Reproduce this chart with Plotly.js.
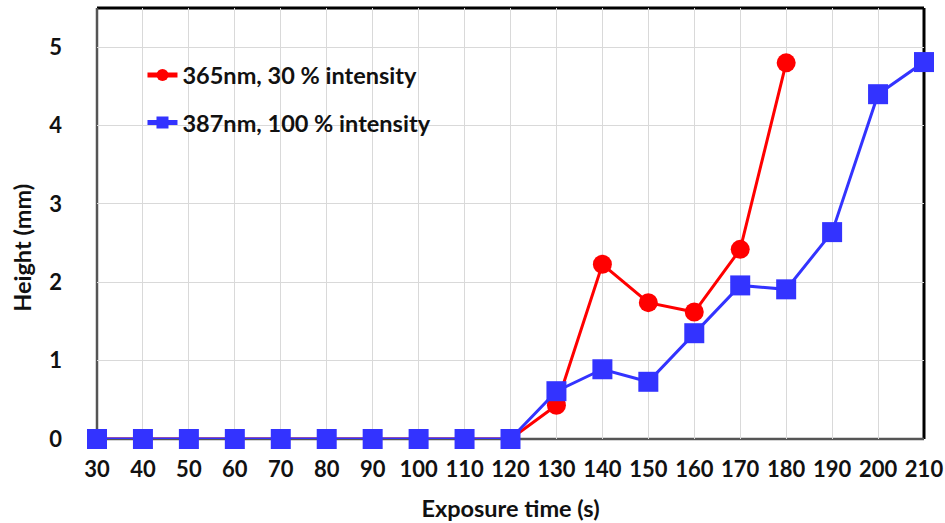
<!DOCTYPE html>
<html><head><meta charset="utf-8">
<script src="https://cdn.plot.ly/plotly-3.0.1.min.js"></script>
<style>body{margin:0;background:#fff}#c{width:945px;height:523px}</style>
</head><body><div id="c"></div>
<script>
const timesRed = [30,40,50,60,70,80,90,100,110,120,130,140,150,160,170,180];
const heightRed = [0,0,0,0,0,0,0,0,0,0,0.43,2.23,1.74,1.62,2.42,4.80];
const timesBlue = [30,40,50,60,70,80,90,100,110,120,130,140,150,160,170,180,190,200,210];
const heightBlue = [0,0,0,0,0,0,0,0,0,0,0.61,0.89,0.73,1.35,1.96,1.91,2.64,4.40,4.81];
const xTicks = [30,40,50,60,70,80,90,100,110,120,130,140,150,160,170,180,190,200,210];
const yTicks = [0,1,2,3,4,5];
const nameRed = "365nm, 30 % intensity";
const nameBlue = "387nm, 100 % intensity";
const xTitle = "Exposure time (s)";
const yTitle = "Height (mm)";

const F = "Lato, 'Open Sans', sans-serif";
const traces = [
  {x: timesRed, y: heightRed, name: nameRed, mode: 'lines+markers', legendgroup:'a',
   line:{color:'#ff0000', width:3}, marker:{symbol:'circle', size:19, color:'#ff0000'}, cliponaxis:false},
  {x: timesBlue, y: heightBlue, name: nameBlue, mode: 'lines+markers', legendgroup:'b',
   line:{color:'#3333ff', width:3}, marker:{symbol:'square', size:20, color:'#3333ff'}, cliponaxis:false}
];
const layout = {
  width:945, height:523,
  margin:{l:97, r:21, t:8, b:84},
  paper_bgcolor:'#fff', plot_bgcolor:'#fff',
  font:{family:F, color:'#111', size:17},
  showlegend:true,
  legend:{x:0.055, y:0.895, xanchor:'left', yanchor:'top', bgcolor:'rgba(0,0,0,0)',
    font:{family:F, size:23.5, color:'#111', weight:'bold'}, traceorder:'grouped', tracegroupgap:14,
    itemwidth:30, itemsizing:'constant'},
  xaxis:{range:[30,210], tickvals:xTicks, ticktext:xTicks.map(String),
    showgrid:true, gridcolor:'#d9d9d9', gridwidth:1, zeroline:false, showline:false,
    ticks:'', ticklabelstandoff:15,
    tickfont:{family:F, size:22, weight:'bold'},
    title:{text:xTitle, font:{family:F, size:23.5, weight:'bold'}, standoff:19}},
  yaxis:{range:[0,5.5], tickvals:yTicks,
    showgrid:true, gridcolor:'#d9d9d9', gridwidth:1, zeroline:false, showline:false,
    ticks:'', ticklabelstandoff:34,
    tickfont:{family:F, size:22, weight:'bold'}},
  annotations:[{text:yTitle, textangle:-90, xref:'paper', yref:'paper', x:-0.091, y:0.443,
    xanchor:'center', yanchor:'middle', showarrow:false, font:{family:F, size:23.5, weight:'bold', color:'#111'}}],
  shapes:[
    {type:'line', xref:'paper', yref:'paper', x0:0, x1:1, y0:1, y1:1, line:{color:'#000', width:3}, layer:'below'},
    {type:'line', xref:'paper', yref:'paper', x0:1, x1:1, y0:0, y1:1, line:{color:'#000', width:3}, layer:'below'},
    {type:'line', xref:'paper', yref:'paper', x0:0, x1:0, y0:0, y1:1, line:{color:'#555', width:2.5}, layer:'below'},
    {type:'line', xref:'paper', yref:'paper', x0:0, x1:1, y0:0, y1:0, line:{color:'#555', width:2.5}, layer:'below'}
  ]
};
Plotly.newPlot('c', traces, layout, {displayModeBar:false, staticPlot:true});
</script></body></html>
